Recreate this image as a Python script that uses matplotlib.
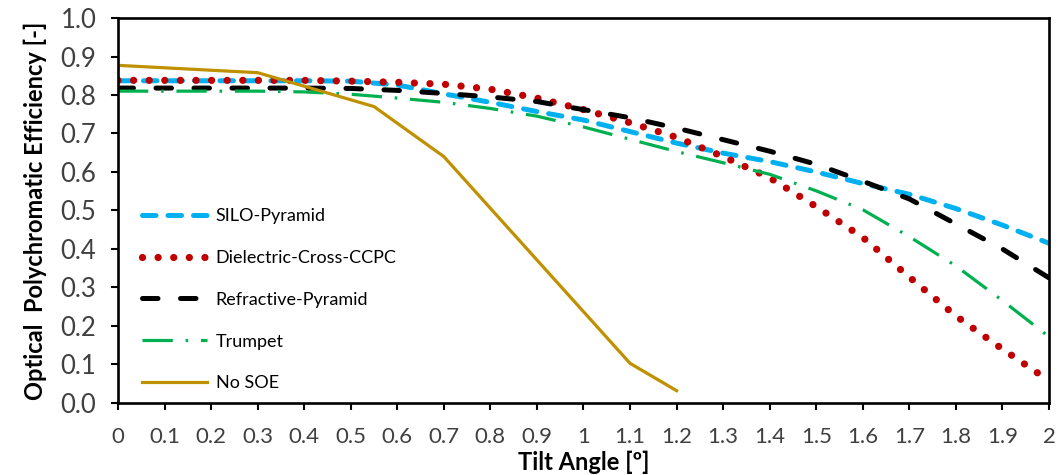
import numpy as np
import matplotlib
matplotlib.use("Agg")
import matplotlib.pyplot as plt

plt.rcParams['font.family'] = ['Lato', 'DejaVu Sans']

# tilt angle grid for the four SOE designs
tilt = [0.0, 0.1, 0.2, 0.3, 0.4, 0.5, 0.6, 0.7, 0.8, 0.9, 1.0,
        1.1, 1.2, 1.3, 1.4, 1.5, 1.6, 1.7, 1.8, 1.9, 2.0]

silo_pyramid = [0.837, 0.837, 0.837, 0.837, 0.837, 0.836, 0.826, 0.803, 0.781, 0.757, 0.735,
                0.705, 0.675, 0.649, 0.627, 0.600, 0.570, 0.542, 0.505, 0.462, 0.415]
dielectric_ccpc = [0.838, 0.838, 0.838, 0.838, 0.838, 0.836, 0.833, 0.828, 0.815, 0.792, 0.762,
                   0.728, 0.690, 0.640, 0.585, 0.510, 0.430, 0.327, 0.226, 0.140, 0.058]
refractive_pyramid = [0.818, 0.818, 0.818, 0.818, 0.818, 0.817, 0.812, 0.804, 0.795, 0.783, 0.762,
                      0.741, 0.714, 0.684, 0.654, 0.620, 0.576, 0.530, 0.465, 0.400, 0.325]
trumpet = [0.810, 0.810, 0.810, 0.810, 0.808, 0.802, 0.792, 0.781, 0.765, 0.745, 0.717,
           0.685, 0.653, 0.624, 0.594, 0.551, 0.502, 0.432, 0.356, 0.266, 0.172]

# without secondary optical element (fewer points)
tilt_no_soe = [0.0, 0.3, 0.55, 0.7, 1.1, 1.2]
no_soe = [0.877, 0.858, 0.770, 0.640, 0.103, 0.032]

x_ticks = [round(0.1 * i, 1) for i in range(21)]
x_tick_labels = ['0', '0.1', '0.2', '0.3', '0.4', '0.5', '0.6', '0.7', '0.8', '0.9', '1',
                 '1.1', '1.2', '1.3', '1.4', '1.5', '1.6', '1.7', '1.8', '1.9', '2']
y_ticks = [round(0.1 * i, 1) for i in range(11)]

fig = plt.figure(figsize=(10.58, 4.75), dpi=100)
ax = fig.add_axes([0.1115, 0.1516, 0.88, 0.8105])

l1, = ax.plot(tilt, silo_pyramid, color='#00B0F0', lw=3.6, label='SILO-Pyramid',
              dash_capstyle='round')
l1.set_dashes([2.7, 2.4])
l2, = ax.plot(tilt, dielectric_ccpc, color='#C00000', lw=5.2, label='Dielectric-Cross-CCPC',
              dash_capstyle='round')
l2.set_dashes([0.01, 2.15])
l3, = ax.plot(tilt, refractive_pyramid, color='black', lw=3.6, label='Refractive-Pyramid',
              dash_capstyle='round')
l3.set_dashes([3.1, 4.5])
l4, = ax.plot(tilt, trumpet, color='#00B050', lw=2.3, label='Trumpet', dash_capstyle='butt')
l4.set_dashes([9.5, 4.0, 0.8, 4.0])
ax.plot(tilt_no_soe, no_soe, color='#BF9000', lw=2.3, label='No SOE')

ax.set_xlim(0, 2)
ax.set_ylim(0, 1)
ax.set_xticks(x_ticks)
ax.set_xticklabels(x_tick_labels)
ax.set_yticks(y_ticks)
ax.set_yticklabels([f'{v:.1f}' for v in y_ticks])

for s in ax.spines.values():
    s.set_linewidth(1.9)
ax.tick_params(direction='out', length=5, width=1.5, colors='black', labelcolor='#404040')
ax.tick_params(axis='x', pad=12, labelsize=16)
ax.tick_params(axis='y', pad=10.5, labelsize=18.5)

ax.set_xlabel('Tilt Angle [º]', fontsize=17, fontweight='bold', labelpad=3)
ax.set_ylabel('Optical  Polychromatic Efficiency [-]', fontsize=17, fontweight='bold', labelpad=10)

ax.legend(loc='lower left', bbox_to_anchor=(0.008, -0.012), frameon=False, fontsize=13,
          handlelength=3.6, labelspacing=1.43, handletextpad=0.5)

fig.savefig('out.png', dpi=100)
